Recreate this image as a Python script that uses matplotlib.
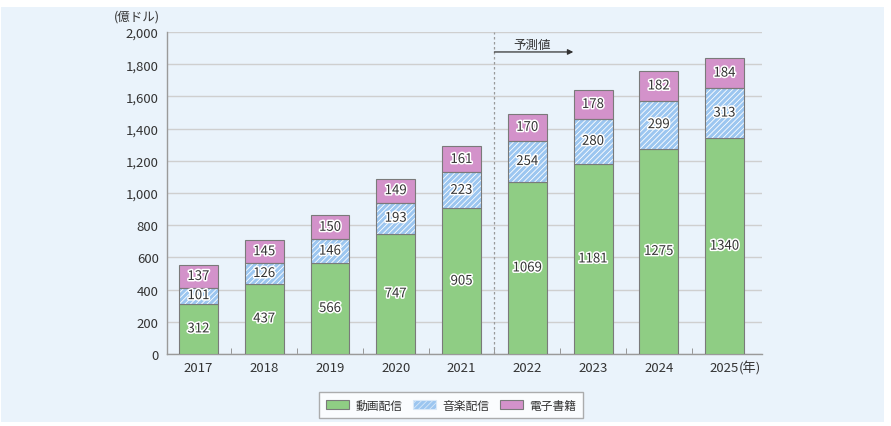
import matplotlib
matplotlib.use("Agg")
import matplotlib.pyplot as plt
import matplotlib.patheffects as pe
from matplotlib.patches import Rectangle, Patch
import numpy as np

plt.rcParams['font.family'] = ['Noto Sans CJK JP', 'DejaVu Sans']
plt.rcParams['hatch.linewidth'] = 0.6

years = ['2017', '2018', '2019', '2020', '2021', '2022', '2023', '2024', '2025']
video = [312, 437, 566, 747, 905, 1069, 1181, 1275, 1340]
music = [101, 126, 146, 193, 223, 254, 280, 299, 313]
ebook = [137, 145, 150, 149, 161, 170, 178, 182, 184]
series_names = ['動画配信', '音楽配信', '電子書籍']
yticks = [0, 200, 400, 600, 800, 1000, 1200, 1400, 1600, 1800, 2000]

c_green = '#8FCD84'
c_blue = '#9CC6F0'
c_pink = '#D392CA'
c_edge = '#7A7A7A'
bg = '#EAF3FB'
txt = '#333333'

fig = plt.figure(figsize=(8.91, 4.27), dpi=100)
fig.patch.set_facecolor('white')
fig.patches.append(Rectangle((1/891, 1-423/427), 883/891, 415/427,
                             transform=fig.transFigure, facecolor=bg,
                             edgecolor='none', zorder=-10))

ax = fig.add_axes([167/891, 1-355/427, (762-167)/891, (355-33)/427])
ax.set_facecolor(bg)

x = np.arange(len(years))
w = 0.593
v = np.array(video); m = np.array(music); e = np.array(ebook)

ax.bar(x, v, w, color=c_green, edgecolor=c_edge, linewidth=0.8, zorder=3)
ax.bar(x, m, w, bottom=v, color=c_blue, edgecolor='white', hatch='//////',
       linewidth=0, zorder=3)
ax.bar(x, m, w, bottom=v, fill=False, edgecolor=c_edge, linewidth=0.8, zorder=4)
ax.bar(x, e, w, bottom=v + m, color=c_pink, edgecolor=c_edge, linewidth=0.8, zorder=3)

stroke = [pe.withStroke(linewidth=2.2, foreground='white')]
for i in range(len(years)):
    for val, base in ((v[i], 0), (m[i], v[i]), (e[i], v[i] + m[i])):
        ax.text(x[i], base + val / 2, str(val), ha='center', va='center',
                fontsize=9.5, color=txt, zorder=6, path_effects=stroke)

ax.set_xlim(-0.479, 8.57)
ax.set_ylim(0, 2000)
ax.set_yticks(yticks)
ax.set_yticklabels([f'{t:,}' for t in yticks], fontsize=9.5, color=txt)
ax.yaxis.grid(True, color='#CFCFCF', linewidth=1.0, zorder=0)
ax.set_axisbelow(True)
ax.tick_params(axis='y', length=0, pad=6)

ax.set_xticks(x)
ax.set_xticklabels(years, fontsize=9.5, color=txt)
ax.tick_params(axis='x', length=0, pad=5)
ax.set_xticks(x[:-1] + 0.5, minor=True)
ax.tick_params(axis='x', which='minor', direction='in', length=4, color='#888888')

for s in ['top', 'right']:
    ax.spines[s].set_visible(False)
for s in ['left', 'bottom']:
    ax.spines[s].set_color('#9A9A9A')
    ax.spines[s].set_linewidth(1.0)

ax.text(8 + 0.22, -0.021, '(年)', transform=ax.get_xaxis_transform(),
        ha='left', va='top', fontsize=9.5, color=txt)
ax.text(-0.012, 1.03, '(億ドル)', transform=ax.transAxes, ha='right',
        va='bottom', fontsize=9, color=txt)

ax.axvline(4.5, color='#999999', linestyle=(0, (2, 2)), linewidth=0.9, zorder=2)
ax.annotate('', xy=(5.7, 1876), xytext=(4.5, 1876),
            arrowprops=dict(arrowstyle='-|>', color='#333333', lw=0.9,
                            mutation_scale=8, shrinkA=0, shrinkB=0), zorder=5)
ax.text(5.08, 1925, '予測値', ha='center', va='center', fontsize=9,
        color=txt, zorder=5)

handles = [Patch(facecolor=c_green, edgecolor=c_edge, linewidth=0.8),
           Patch(facecolor=c_blue, edgecolor='#D8E8F8', hatch='//////', linewidth=0.8),
           Patch(facecolor=c_pink, edgecolor=c_edge, linewidth=0.8)]
leg = fig.legend(handles, series_names, loc='center', ncol=3,
                 bbox_to_anchor=(451/891, 1-406/427), frameon=True,
                 fancybox=False, edgecolor='#999999', fontsize=8.5,
                 handlelength=2.0, handleheight=0.8, columnspacing=0.9,
                 handletextpad=0.5, borderpad=0.55)
leg.get_frame().set_linewidth(1.0)
for t in leg.get_texts():
    t.set_color(txt)

fig.savefig('out.png', dpi=100)
